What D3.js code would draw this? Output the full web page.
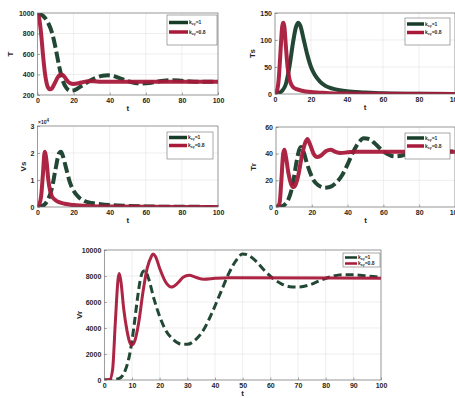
<!DOCTYPE html>
<html>
<head>
<meta charset="utf-8">
<script src="https://cdn.jsdelivr.net/npm/d3@7"></script>
<style>
  body { margin: 0; background: #fff; }
  svg { display: block; font-family: "Liberation Sans", Arial, sans-serif; }
  .tick text { font-size: 7px; font-weight: bold; fill: #262626; }
  .axis-label { font-size: 8px; font-weight: bold; fill: #262626; }
  .leg-text { font-size: 5px; font-weight: bold; fill: #262626; }
</style>
</head>
<body>
<div id="chart"></div>
<script>
// ---- data: [t, value] pairs ----
const T_k1 = [[0,1000],[2,985],[4,955],[6,900],[8,810],[10,660],[12,480],[14,340],[16,270],[18,242],[20,245],[22,262],[25,295],[28,330],[32,365],[36,388],[39,392],[42,385],[46,360],[50,335],[54,318],[58,313],[62,318],[66,330],[70,340],[75,344],[80,338],[85,332],[90,330],[100,330]];
const T_k08 = [[0,1000],[1,940],[2,800],[3,600],[4,430],[5,320],[6,268],[7,255],[8,265],[9,295],[10,330],[11,365],[12,390],[13,400],[14,395],[15,375],[16,350],[17,328],[18,315],[20,308],[22,312],[25,325],[28,335],[31,335],[35,330],[40,330],[100,330]];

const Ts_k1 = [[0,0],[2,2],[4,6],[6,18],[8,50],[10,95],[11.5,122],[12.8,132],[14,127],[16,100],[18,72],[20,50],[22,36],[25,23],[28,15],[32,10],[36,7],[40,5],[50,3],[60,1.5],[80,0.5],[100,0.2]];
const Ts_k08 = [[0,0],[1,5],[2,25],[3,75],[4,125],[4.6,132],[5.2,125],[6,90],[7,50],[8,28],[9,18],[10,13],[12,9],[15,6],[20,3.5],[25,2.5],[30,1.5],[40,0.8],[60,0.3],[100,0]];

const Vs_k1 = [[0,0],[2,300],[4,1000],[6,3000],[8,7000],[10,14000],[12,20000],[13,20500],[14,19000],[16,14000],[18,9000],[20,6000],[23,3500],[26,2200],[30,1500],[35,1000],[40,700],[50,400],[60,200],[80,80],[100,30]];
const Vs_k08 = [[0,0],[1,1000],[2,4000],[3,12000],[4,20500],[5,17000],[6,10000],[7,6000],[8,4000],[10,2500],[12,1800],[15,1200],[20,700],[30,300],[40,150],[60,50],[100,0]];

const Tr_k1 = [[0,0],[3,0.5],[5,2],[7,6],[8.5,12],[10,22],[11.5,34],[13,43],[14,45],[15,43],[17,34],[19,26],[21,20],[24,16],[27,14.5],[30,15],[33,17.5],[37,24],[40,32],[43,41],[46,48],[49,51.5],[52,51],[55,48],[58,44],[62,40],[66,38],[70,38.5],[75,40.5],[80,42],[85,42.5],[90,42],[100,41.5]];
const Tr_k08 = [[0,0],[1,0.5],[2,3],[3,20],[4,40],[4.7,43],[5.5,38],[7,25],[8.5,17],[9.8,15],[11,17],[12.5,24],[14,35],[16,47],[17.5,51],[19,47],[21,40],[23,37.5],[25,38.5],[28,42],[30.5,43],[33,41.5],[36,40.5],[40,41],[45,41.5],[100,41.5]];

const Vr_k1 = [[0,0],[4,50],[6,200],[7.5,700],[9,1800],[10,3000],[11,4600],[12,6300],[13,7700],[14,8350],[14.8,8400],[16,7800],[18,6200],[20,4900],[22,3900],[25,3100],[28,2750],[30,2750],[33,3100],[36,3900],[39,5200],[42,6700],[45,8200],[48,9300],[50,9700],[52,9600],[55,9100],[58,8400],[61,7800],[64,7400],[67,7180],[70,7150],[74,7300],[78,7650],[82,7950],[86,8100],[90,8100],[95,8000],[100,7900]];
const Vr_k08 = [[0,0],[2,50],[3,800],[4,4500],[5,7800],[5.4,8200],[6,7600],[7,5500],[8.2,3800],[9.2,2900],[10,2700],[11,3000],[12.5,4500],[14,6800],[15.5,8600],[17,9500],[17.6,9700],[18.5,9500],[20,8600],[22,7600],[24.3,7150],[26.5,7450],[28.5,7900],[30.7,8050],[33,7900],[36,7750],[40,7820],[45,7870],[100,7830]];

const legendLabels = ['=1', '=0.8'];
const xTicksTop = [0, 20, 40, 60, 80, 100];
const xTicksBottom = [0, 10, 20, 30, 40, 50, 60, 70, 80, 90, 100];

const GREEN = '#173d2a', RED = '#a8193a';

const W = 455, H = 398;
const svg = d3.select('#chart').append('svg').attr('width', W).attr('height', H);

function panel(o) {
  const x = d3.scaleLinear().domain([0, 100]).range([o.x0, o.x1]);
  const y = d3.scaleLinear().domain(o.yDomain).range([o.y1, o.y0]);
  const g = svg.append('g');
  const id = 'clip' + o.name;
  g.append('clipPath').attr('id', id).append('rect')
    .attr('x', o.x0).attr('y', o.y0).attr('width', o.x1 - o.x0).attr('height', o.y1 - o.y0);

  // grid
  g.append('g').selectAll('line').data(o.xTicks).join('line')
    .attr('x1', d => x(d)).attr('x2', d => x(d)).attr('y1', o.y0).attr('y2', o.y1)
    .attr('stroke', '#e3e3e3').attr('stroke-width', 0.6);
  g.append('g').selectAll('line').data(o.yTicks).join('line')
    .attr('x1', o.x0).attr('x2', o.x1).attr('y1', d => y(d)).attr('y2', d => y(d))
    .attr('stroke', '#e3e3e3').attr('stroke-width', 0.6);

  // curves
  const line = d3.line().x(d => x(d[0])).y(d => y(d[1])).curve(d3.curveMonotoneX);
  const cg = g.append('g').attr('clip-path', `url(#${id})`);
  cg.append('path').datum(o.green).attr('d', line).attr('fill', 'none')
    .attr('stroke', GREEN).attr('stroke-width', o.lw)
    .attr('stroke-dasharray', o.dashed ? o.dash : null).attr('opacity', 0.95);
  cg.append('path').datum(o.red).attr('d', line).attr('fill', 'none')
    .attr('stroke', RED).attr('stroke-width', o.lw).attr('opacity', 0.95);

  // axes
  const ax = g.append('g').attr('transform', `translate(0,${o.y1})`)
    .call(d3.axisBottom(x).tickValues(o.xTicks).tickSize(-2.5).tickPadding(3));
  const ay = g.append('g').attr('transform', `translate(${o.x0},0)`)
    .call(d3.axisLeft(y).tickValues(o.yTicks).tickSize(-2.5).tickPadding(3)
      .tickFormat(o.yFmt || d3.format('d')));
  [ax, ay].forEach(a => {
    a.select('.domain').remove();
    a.selectAll('.tick line').attr('stroke', '#555').attr('stroke-width', 0.5);
  });
  g.append('rect').attr('x', o.x0).attr('y', o.y0)
    .attr('width', o.x1 - o.x0).attr('height', o.y1 - o.y0)
    .attr('fill', 'none').attr('stroke', '#666').attr('stroke-width', 0.6);

  g.append('text').attr('class', 'axis-label').attr('text-anchor', 'middle')
    .attr('x', (o.x0 + o.x1) / 2).attr('y', o.y1 + 16).text('t');
  g.append('text').attr('class', 'axis-label').attr('text-anchor', 'middle')
    .attr('transform', `translate(${o.yl},${(o.y0 + o.y1) / 2}) rotate(-90)`).text(o.name);

  // legend
  const L = o.leg;
  const lg = g.append('g');
  lg.append('rect').attr('x', L.x).attr('y', L.y).attr('width', L.w).attr('height', L.h)
    .attr('fill', '#fff').attr('stroke', '#555').attr('stroke-width', 0.5);
  [GREEN, RED].forEach((c, i) => {
    const yy = L.y + L.r0 + i * L.dr;
    lg.append('line').attr('x1', L.x + 2).attr('x2', L.x + L.lw).attr('y1', yy).attr('y2', yy)
      .attr('stroke', c).attr('stroke-width', L.sw);
    const t = lg.append('text').attr('class', 'leg-text').attr('x', L.x + L.lw + 1).attr('y', yy + 1.7);
    t.append('tspan').text('k');
    t.append('tspan').attr('font-size', '3.5px').attr('dy', 1).text('cy');
    t.append('tspan').attr('dy', -1).text(legendLabels[i]);
  });
  return { g, x, y };
}

panel({ name: 'T', x0: 37.5, x1: 218, y0: 13, y1: 95, yDomain: [200, 1000],
  yTicks: [200, 400, 600, 800, 1000], xTicks: xTicksTop, yl: 13,
  green: T_k1, red: T_k08, lw: 4, dashed: true, dash: '11,4',
  leg: { x: 167, y: 15, w: 50, h: 30, r0: 7.5, dr: 9.5, lw: 21, sw: 3.5 } });

panel({ name: 'Ts', x0: 275, x1: 455, y0: 13, y1: 94, yDomain: [0, 150],
  yTicks: [0, 50, 100, 150], xTicks: xTicksTop, yl: 255,
  green: Ts_k1, red: Ts_k08, lw: 4, dashed: false,
  leg: { x: 405, y: 18, w: 45, h: 27, r0: 6, dr: 8.5, lw: 19, sw: 3.5 } });

const pVs = panel({ name: 'Vs', x0: 37.5, x1: 218, y0: 126, y1: 207, yDomain: [0, 30000],
  yTicks: [0, 10000, 20000, 30000], xTicks: xTicksTop, yl: 26, yFmt: d => d / 10000,
  green: Vs_k1, red: Vs_k08, lw: 4, dashed: true, dash: '11,4',
  leg: { x: 167, y: 132, w: 46, h: 27, r0: 5.5, dr: 8, lw: 20, sw: 3.5 } });
const ex = pVs.g.append('text').attr('class', 'leg-text').attr('x', 38).attr('y', 124)
  .attr('font-size', '6px').attr('font-weight', 'normal');
ex.append('tspan').text('×10');
ex.append('tspan').attr('dy', -2.5).attr('font-size', '4.5px').text('4');

panel({ name: 'Tr', x0: 276, x1: 455, y0: 127, y1: 207, yDomain: [0, 60],
  yTicks: [0, 20, 40, 60], xTicks: xTicksTop, yl: 256,
  green: Tr_k1, red: Tr_k08, lw: 4, dashed: true, dash: '11,4',
  leg: { x: 405, y: 133, w: 45, h: 26, r0: 5, dr: 8, lw: 19, sw: 3.5 } });

panel({ name: 'Vr', x0: 104.3, x1: 381, y0: 250, y1: 380, yDomain: [0, 10000],
  yTicks: [0, 2000, 4000, 6000, 8000, 10000], xTicks: xTicksBottom, yl: 82,
  green: Vr_k1, red: Vr_k08, lw: 3, dashed: true, dash: '8,4',
  leg: { x: 343, y: 253, w: 37, h: 14, r0: 4.5, dr: 6, lw: 14, sw: 2.5 } });
</script>
</body>
</html>
